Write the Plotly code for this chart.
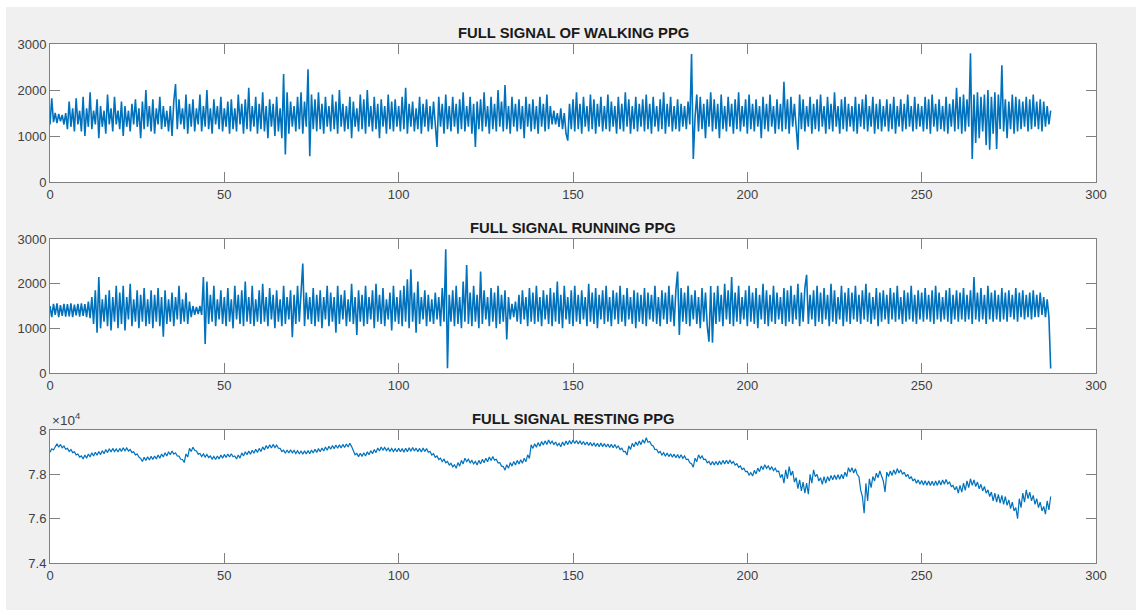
import numpy as np
import plotly.graph_objects as go

SAMPLE_RATE_HZ = 2.0

walking_ppg = [
    1250,1820,1300,1500,1280,1480,1320,1460,1250,1500,1150,1750,1200,1600,1100,1820,1250,1550,1100,1850,
    1000,1600,1200,1950,1150,1550,1250,1800,950,1650,1200,1550,1050,1900,1250,1600,1100,1850,1250,1550,
    1150,1750,1000,1650,1200,1550,1100,1700,1250,1800,1200,1600,950,1750,1150,2000,1200,1650,1100,1800,
    1050,1600,1250,1850,1150,1650,1200,1550,1100,1650,1000,1750,2130,1150,1800,1250,1600,1150,1900,1050,
    1700,1200,1800,1100,1600,1250,1900,1100,1650,1200,2000,1150,1600,1050,1800,1250,1650,1150,1850,1100,
    1600,1200,1750,1050,1800,1150,1600,1100,1900,1250,1700,1050,1800,1150,2050,1100,1650,1200,1850,1050,
    1700,1150,1950,1100,1650,950,1800,1200,1700,1000,1850,1100,1600,950,2350,600,1950,1050,1750,1200,
    1650,1100,1850,1150,1950,1050,1750,1200,2450,560,1900,1150,1800,1100,1950,1150,1700,1050,1850,1200,
    1650,1100,1900,1150,1750,1050,2000,1200,1700,1100,1650,1150,1850,950,1750,1200,1600,1100,1900,1150,
    1800,1050,2000,1200,1650,1100,1850,1150,1700,950,1800,1200,1650,1050,1900,1150,1750,1100,1800,1200,
    1650,1100,1850,1150,2050,1050,1700,1200,1750,1100,1600,1150,1850,1050,1700,1200,1800,1100,1650,1150,
    1750,1150,760,1850,1200,1700,1050,1900,1150,1650,1100,1850,1200,1700,1050,1800,1150,1950,1100,1650,
    1200,1850,1050,1700,760,1750,1150,1800,1100,1950,1200,1650,1050,1850,1150,1700,1100,2000,1200,1750,
    1100,2110,1150,1650,1050,1850,1200,1700,1100,1800,1150,1650,950,1850,1200,1700,1100,1800,1150,1650,
    1050,1850,1200,1700,1100,1900,1150,1650,1250,1550,1250,1500,1200,1600,1150,1500,1050,900,1700,1150,
    1800,1100,1950,1150,1700,1050,1850,1200,1650,1100,1900,1150,1800,1050,1700,1200,1850,1100,1650,1150,
    1900,1100,1750,1200,1650,1050,1850,1150,1700,1100,1950,1200,1800,1050,1650,1150,1850,1100,1700,1200,
    1800,1100,1900,1150,1700,1050,1850,1200,1650,1100,1800,1150,1950,1050,1700,1200,1850,1100,1650,1150,
    1800,1100,1700,1200,1650,1150,1750,1250,2780,500,1400,1900,1100,1850,1150,1700,950,1800,1200,1950,
    1100,1800,1150,1700,950,1900,1150,1650,1100,1850,1200,1700,1050,1800,1150,1950,1100,1650,1200,1800,
    1050,1900,1150,1700,1100,1800,1200,1650,950,1850,1150,1700,1100,1900,1200,1650,1050,1800,1150,1700,
    1100,2180,1150,1800,1050,1850,1200,1700,1100,700,1900,1150,1800,1100,1650,1200,1850,1050,1700,1150,
    1800,1100,1900,1200,1650,1050,1850,1150,1700,1100,1950,1200,1650,1050,1800,1150,1850,1100,1700,1200,
    1650,1100,1850,1050,1700,1200,1800,1150,1900,1100,1650,1200,1850,1050,1700,1150,1800,1100,1650,1200,
    1800,1100,1700,1150,1850,1050,1650,1200,1800,1100,1700,1150,1900,1200,1650,1100,1850,1150,1700,1200,
    1650,1100,1850,1150,1800,1050,1900,1200,1700,1100,1800,1150,1650,1100,1850,1050,1700,1200,1800,1100,
    2050,1150,1850,1050,1900,1100,1800,1200,2800,500,1900,850,1950,950,1850,1100,1900,800,2000,700,
    1850,1050,1950,720,1900,1150,2540,1100,1800,950,1750,1150,1900,1050,1850,1100,1800,1150,1750,1200,
    1850,1100,1800,1150,1900,1200,1750,1150,1800,1100,1750,1200,1650,1250,1550,
]

running_ppg = [
    1500,1250,1550,1300,1560,1250,1520,1280,1550,1260,1540,1270,1560,1250,1530,1290,1550,1260,1560,1280,
    1540,1250,1600,1230,1700,1100,1850,900,2150,1000,1650,1150,1750,1050,1850,950,1700,1150,1950,1000,
    1800,1100,1950,950,1700,1200,2000,1050,1650,1150,1850,1000,1750,1150,1900,1050,1650,1100,1850,1000,
    1750,1150,1900,1050,1700,810,1850,1100,1650,1150,1800,1050,1700,1200,1950,1100,1650,1150,1800,1100,
    1600,1250,1500,1300,1480,1320,1500,1300,2150,650,2050,1100,1750,1150,1950,1050,1650,1200,1850,1100,
    1700,1050,1900,1150,1650,1000,1950,1200,1750,1100,1850,1050,2050,1150,1700,1100,1950,1050,1650,1150,
    1850,1100,2000,1150,1700,1050,1900,1200,1750,1000,1850,1150,1650,1050,1950,1100,1700,1200,1850,800,
    1750,1100,1950,1150,1800,2450,1050,1800,1200,1700,1100,1900,1050,1750,1150,1850,1000,1700,1200,1950,
    1050,1800,1150,1700,900,1950,1100,1750,1200,1850,1050,1650,1150,2000,1100,1700,850,1850,1150,1750,
    1050,1950,1100,1700,1200,1850,1000,2000,1150,1750,1100,1900,1050,1650,1200,1800,950,1950,1150,1700,
    1100,1850,1050,1950,1150,2100,1000,2320,1150,1800,900,2050,1100,1700,1200,1850,1050,1750,1150,1650,
    1100,1800,1200,1700,1050,1900,1150,2770,105,1750,1150,1850,1050,1950,1100,1700,1000,2050,1150,2420,
    1100,1800,1050,1950,1150,1750,1000,2270,1100,1850,1200,1700,1050,1900,1150,1800,1000,1950,1100,1750,
    1150,1850,750,1700,1200,1550,1250,1600,1150,1750,1100,1850,1200,1700,1050,1900,1150,1800,1100,1950,
    1150,1700,1050,1850,1200,1750,1100,1900,1050,1800,1150,2050,1100,1750,1000,1950,1200,1700,1100,1850,
    1050,1950,1150,1750,1100,1850,1200,1700,1050,2000,1150,1800,1100,1900,1000,1750,1200,1850,1100,1950,
    1150,1700,1050,1850,1200,1800,1100,1950,1150,1750,1050,1900,1200,1700,1100,1850,1000,1800,1150,1750,
    1100,1900,1050,1800,1200,1750,1150,1950,1100,1700,1050,1850,1200,1800,1100,1950,1150,1750,1050,1850,
    2270,850,1900,1150,1800,1100,1950,1050,1750,1200,1850,1100,1700,1000,1900,1150,1800,1050,700,1950,
    680,1800,1100,1950,1150,1750,1050,2000,1200,1850,1100,2150,1050,1800,1150,1950,1100,1700,1200,1850,
    1050,1950,1150,1800,1100,1900,1000,1750,1200,2000,1100,1850,1050,1750,1150,1950,1100,1800,1200,1700,
    1100,1900,1050,1850,1150,1950,1100,1750,1200,2000,1050,1800,1150,1900,2200,1100,1750,1200,1850,1050,
    1950,1150,1800,1100,1900,1200,1750,1050,2000,1150,1850,1100,1700,1200,1950,1050,1800,1150,1900,1100,
    1800,1200,1950,1150,1750,1100,1850,1200,2000,1150,1800,1100,1700,1200,1900,1050,1800,1150,1850,1200,
    1750,1100,1900,1200,1800,1150,1950,1200,1700,1100,1850,1150,1800,1200,1950,1150,1750,1100,1850,1200,
    1800,1150,1900,1200,1750,1150,1850,1100,1950,1200,1800,1150,1700,1200,1850,1150,1900,1100,1750,1200,
    1850,1150,1800,1200,1900,1150,1750,1200,1850,1100,2150,1200,1800,1150,1900,1200,1750,1100,1950,1200,
    1800,1150,1850,1200,1750,1150,1900,1200,1800,1150,1850,1250,1750,1200,1900,1150,1800,1250,1850,1200,
    1750,1250,1800,1200,1850,1250,1750,1250,1800,1300,1700,1250,1650,1250,100,
]

resting_ppg = [
    79000,79150,79100,79250,79380,79220,79350,79200,79280,79130,79170,79030,79120,78980,79020,78880,78920,78780,78830,78690,
    78870,78730,78920,78780,78970,78830,79000,78860,79030,78890,79070,78930,79120,78980,79150,79010,79170,79030,79150,79010,
    79170,79030,79200,79060,79190,79050,79120,78980,79020,78880,78920,78780,78720,78580,78770,78630,78790,78650,78810,78670,
    78830,78690,78870,78730,78920,78780,78970,78830,79020,78880,79050,78910,78970,78830,78820,78680,78670,78530,78920,78780,
    79170,79030,79220,79080,79050,78910,78940,78800,78920,78780,78900,78760,78830,78690,78810,78670,78830,78690,78870,78730,
    78900,78760,78920,78780,78930,78790,78830,78690,78870,78730,78970,78830,79020,78880,79050,78910,79090,78950,79130,78990,
    79170,79030,79240,79100,79300,79160,79330,79190,79350,79210,79320,79180,79170,79030,79090,78950,79100,78960,79110,78970,
    79080,78940,79070,78930,79050,78910,79060,78920,79070,78930,79100,78960,79130,78990,79160,79020,79190,79050,79230,79090,
    79270,79130,79300,79160,79320,79180,79330,79190,79350,79210,79370,79230,79400,79250,79020,78880,78940,78800,78950,78810,
    78970,78830,79020,78880,79070,78930,79120,78980,79190,79050,79230,79090,79210,79070,79180,79040,79170,79030,79160,79020,
    79180,79020,79160,79000,79180,79020,79200,79040,79210,79050,79180,79020,79170,79010,79190,79030,79160,79000,79030,78870,
    78930,78770,78830,78670,78730,78570,78680,78520,78580,78420,78500,78340,78430,78270,78530,78370,78630,78470,78730,78570,
    78680,78520,78630,78470,78580,78420,78630,78470,78680,78520,78730,78570,78780,78620,78800,78640,78680,78520,78530,78370,
    78350,78190,78430,78270,78530,78370,78580,78420,78630,78470,78660,78500,78730,78570,78880,78720,79330,79170,79380,79220,
    79430,79270,79480,79320,79510,79350,79550,79390,79500,79340,79460,79300,79400,79240,79460,79300,79500,79340,79530,79370,
    79550,79390,79530,79370,79510,79350,79480,79320,79460,79300,79440,79280,79420,79260,79400,79240,79410,79250,79390,79230,
    79370,79210,79360,79200,79350,79190,79280,79120,79180,79020,79030,78870,79280,79120,79400,79240,79460,79300,79500,79340,
    79560,79400,79650,79450,79480,79320,79280,79120,79130,78970,79030,78870,78980,78820,78960,78800,78930,78770,78910,78750,
    78890,78730,78880,78720,78830,78670,78680,78520,78480,78320,78730,78570,78880,78720,78830,78670,78680,78520,78580,78420,
    78580,78420,78580,78420,78600,78440,78630,78470,78640,78480,78650,78490,78580,78420,78480,78320,78380,78220,78280,78120,
    78130,77970,78080,77920,78180,78020,78280,78120,78380,78220,78430,78270,78380,78220,78330,78170,78280,78120,78150,77850,
    78000,77600,78200,77800,78350,77950,78150,77650,77850,77350,77750,77250,77650,77150,77600,77100,78000,77600,78200,77900,
    78000,77700,77850,77550,77900,77600,77900,77700,77950,77750,77970,77770,77980,77780,78000,77800,78100,77900,78300,78100,
    78300,78060,78250,77990,77900,77300,77000,76250,77600,76800,77800,77400,77900,77700,78050,77850,78150,77950,77700,77200,
    78100,77900,78150,77950,78200,78000,78260,78060,78200,78000,78100,77900,78000,77800,77900,77700,77800,77600,77750,77550,
    77720,77520,77710,77510,77700,77500,77690,77490,77700,77500,77720,77520,77750,77550,77770,77570,77650,77450,77500,77300,
    77450,77150,77500,77200,77600,77280,77700,77400,77800,77500,77750,77450,77650,77350,77550,77250,77450,77150,77300,77000,
    77200,76800,77150,76750,77100,76700,77050,76650,77000,76600,76850,76450,76750,76350,76500,76000,76900,76500,77150,76750,
    77300,76900,77200,76800,77050,76650,76900,76500,76750,76350,76550,76200,76800,76400,77000,
]

titles = ["FULL SIGNAL OF WALKING PPG", "FULL SIGNAL RUNNING PPG", "FULL SIGNAL RESTING PPG"]
x_ticks = [0, 50, 100, 150, 200, 250, 300]
y_ticks_ppg = [0, 1000, 2000, 3000]
y_ticks_rest = [74000, 76000, 78000, 80000]
y_ticktext_rest = ["7.4", "7.6", "7.8", "8"]

W, H = 1136, 610
LINE = "#0072BD"
AX = "#808080"
TXT = "#404040"
FONT = "Liberation Sans, Arial, Helvetica, sans-serif"

x0, x1 = 50 / W, 1096 / W
rows_px = [(44, 182), (239, 373), (430, 563)]
domains = [[1 - b / H, 1 - t / H] for t, b in rows_px]
line_widths = [1.6, 1.6, 1.2]

fig = go.Figure()
series = [walking_ppg, running_ppg, resting_ppg]
for i, s in enumerate(series):
    t = np.arange(len(s)) / SAMPLE_RATE_HZ
    fig.add_trace(go.Scatter(x=t, y=s, mode="lines",
                             line=dict(color=LINE, width=line_widths[i]),
                             xaxis="x" if i == 0 else f"x{i+1}",
                             yaxis="y" if i == 0 else f"y{i+1}",
                             showlegend=False, hoverinfo="skip"))

common_x = dict(range=[0, 300], tickvals=x_ticks, showline=True, mirror="allticks",
                linecolor=AX, linewidth=1, ticks="inside", ticklen=10, tickcolor=AX,
                tickwidth=1, showgrid=False, zeroline=False, automargin=False,
                tickfont=dict(family=FONT, size=13, color=TXT))
common_y = dict(showline=True, mirror="allticks", linecolor=AX, linewidth=1,
                ticks="inside", ticklen=10, tickcolor=AX, tickwidth=1,
                showgrid=False, zeroline=False, automargin=False,
                tickfont=dict(family=FONT, size=13, color=TXT))

layout = dict(width=W, height=H, margin=dict(l=0, r=0, t=0, b=0), autosize=False,
              paper_bgcolor="#f0f0f0", plot_bgcolor="white", showlegend=False)
for i in range(3):
    xn = "xaxis" if i == 0 else f"xaxis{i+1}"
    yn = "yaxis" if i == 0 else f"yaxis{i+1}"
    ya = "y" if i == 0 else f"y{i+1}"
    xa = "x" if i == 0 else f"x{i+1}"
    layout[xn] = dict(common_x, domain=[x0, x1], anchor=ya)
    if i < 2:
        layout[yn] = dict(common_y, domain=domains[i], anchor=xa,
                          range=[0, 3000], tickvals=y_ticks_ppg)
    else:
        layout[yn] = dict(common_y, domain=domains[i], anchor=xa,
                          range=[74000, 80000], tickvals=y_ticks_rest,
                          ticktext=y_ticktext_rest)
fig.update_layout(**layout)

for i in range(3):
    fig.add_annotation(text=f"<b>{titles[i]}</b>", xref="paper", yref="paper",
                       x=(x0 + x1) / 2, y=domains[i][1], xanchor="center", yanchor="bottom",
                       yshift=1, showarrow=False,
                       font=dict(family=FONT, size=14.8, color="#1a1a1a"))

fig.add_annotation(text="\u00d710<sup>4</sup>", xref="paper", yref="paper",
                   x=x0, y=domains[2][1], xanchor="left", yanchor="bottom",
                   yshift=0, showarrow=False,
                   font=dict(family=FONT, size=13.5, color=TXT))

# white border strips of the screenshot
fig.add_shape(type="rect", xref="paper", yref="paper", x0=0, x1=6 / W, y0=0, y1=1,
              fillcolor="white", line=dict(width=0), layer="below")
fig.add_shape(type="rect", xref="paper", yref="paper", x0=0, x1=1, y0=1 - 7 / H, y1=1,
              fillcolor="white", line=dict(width=0), layer="below")

fig.write_html(
    "out.html",
    config={"displayModeBar": False},
    post_script="document.body.style.margin='0';document.body.style.padding='0';"
                "document.documentElement.style.overflow='hidden';"
                "document.body.style.overflow='hidden';",
)
